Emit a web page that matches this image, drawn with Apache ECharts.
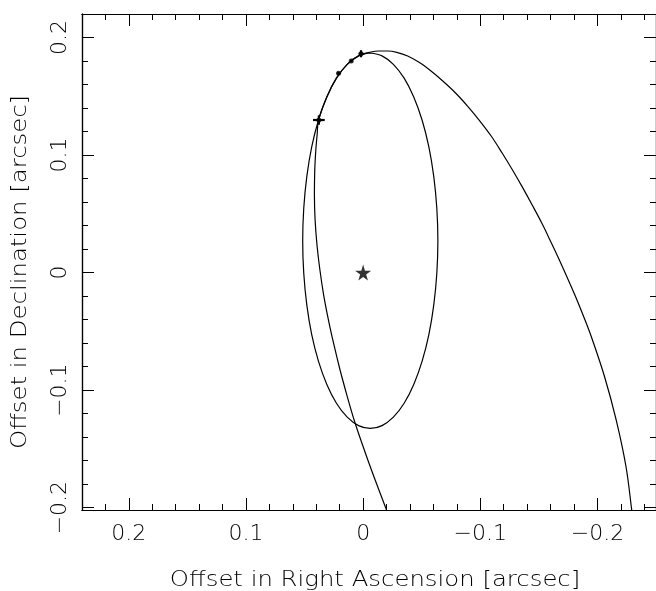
<!DOCTYPE html>
<html>
<head>
<meta charset="utf-8">
<script src="https://cdn.jsdelivr.net/npm/echarts@6/dist/echarts.min.js"></script>
<style>html,body{margin:0;padding:0;background:#fff;}#c{width:656px;height:591px;}</style>
</head>
<body>
<div id="c"></div>
<script>
// ---- data ----
const xMajorTicks = [-0.2, -0.1, 0, 0.1, 0.2];
const xMinorTicks = [-0.24, -0.22, -0.2, -0.18, -0.16, -0.14, -0.12, -0.1, -0.08, -0.06, -0.04, -0.02, 0, 0.02, 0.04, 0.06, 0.08, 0.1, 0.12, 0.14, 0.16, 0.18, 0.2, 0.22, 0.24];
const yMajorTicks = [-0.2, -0.1, 0, 0.1, 0.2];
const yMinorTicks = [-0.2, -0.18, -0.16, -0.14, -0.12, -0.1, -0.08, -0.06, -0.04, -0.02, 0, 0.02, 0.04, 0.06, 0.08, 0.1, 0.12, 0.14, 0.16, 0.18, 0.2, 0.22];
const xTitle = 'Offset in Right Ascension [arcsec]';
const yTitle = 'Offset in Declination [arcsec]';

// closed orbit (clockwise from the top)
const innerX = [-0.0061, -0.0161, -0.0258, -0.0350, -0.0432, -0.0503, -0.0561, -0.0603, -0.0629, -0.0638, -0.0629, -0.0603, -0.0561, -0.0503, -0.0432, -0.0350, -0.0258, -0.0161, -0.0061, 0.0039, 0.0136, 0.0228, 0.0310, 0.0381, 0.0439, 0.0481, 0.0507, 0.0516, 0.0507, 0.0481, 0.0439, 0.0381, 0.0310, 0.0228, 0.0136, 0.0039, -0.0061];
const innerY = [0.1868, 0.1844, 0.1772, 0.1654, 0.1494, 0.1298, 0.1070, 0.0817, 0.0548, 0.0271, -0.0006, -0.0275, -0.0528, -0.0756, -0.0952, -0.1112, -0.1230, -0.1302, -0.1326, -0.1302, -0.1230, -0.1112, -0.0952, -0.0756, -0.0528, -0.0275, -0.0006, 0.0271, 0.0548, 0.0817, 0.1070, 0.1298, 0.1494, 0.1654, 0.1772, 0.1844, 0.1868];

// wide orbit (from bottom-left, up over the top, down to bottom-right)
const bigX = [-0.0232, -0.0151, -0.0071, 0.0005, 0.0077, 0.0139, 0.0197, 0.0249, 0.0296, 0.0337, 0.0369, 0.0394, 0.0410, 0.0416, 0.0413, 0.0404, 0.0393, 0.0381, 0.0310, 0.0228, 0.0136, 0.0039, -0.0067, -0.0134, -0.0211, -0.0287, -0.0380, -0.0481, -0.0574, -0.0675, -0.0793, -0.0891, -0.0990, -0.1093, -0.1188, -0.1275, -0.1357, -0.1443, -0.1526, -0.1603, -0.1675, -0.1801, -0.1877, -0.1948, -0.2061, -0.2160, -0.2244, -0.2291, -0.2312];
const bigY = [-0.2105, -0.1892, -0.1680, -0.1467, -0.1254, -0.1042, -0.0829, -0.0616, -0.0404, -0.0191, 0.0022, 0.0235, 0.0447, 0.0660, 0.0873, 0.1043, 0.1171, 0.1298, 0.1494, 0.1654, 0.1772, 0.1844, 0.1877, 0.1885, 0.1885, 0.1874, 0.1843, 0.1787, 0.1719, 0.1634, 0.1524, 0.1417, 0.1298, 0.1162, 0.1015, 0.0873, 0.0731, 0.0575, 0.0419, 0.0260, 0.0107, -0.0176, -0.0361, -0.0546, -0.0886, -0.1254, -0.1652, -0.2006, -0.2190];

// observations with errors
const obsX = [0.0018, 0.0102, 0.0210, 0.0378];
const obsY = [0.1862, 0.1800, 0.1695, 0.1298];
const errX = [0.002, 0.001, 0.001, 0.005];
const errY = [0.003, 0.001, 0.001, 0.004];

// primary star
const starX = [0];
const starY = [0];

// ---- chart ----
const FONT = 'DejaVu Sans';
const fmt = v => (v < 0 ? '\u2212' + Math.abs(v) : String(v));
const zip = (a, b) => a.map((v, i) => [v, b[i]]);

const chart = echarts.init(document.getElementById('c'), null, {renderer: 'canvas'});

const axLine = {show: true, onZero: false, lineStyle: {color: '#000', width: 1.2}};
function xAx(pos, ticks, len, labels) {
  return {
    type: 'value', position: pos, min: -0.25, max: 0.24, inverse: true,
    axisLine: axLine, splitLine: {show: false},
    axisTick: {show: true, inside: true, length: len, customValues: ticks, lineStyle: {color: '#000', width: 1}},
    axisLabel: labels ? {show: true, customValues: ticks, formatter: fmt, color: '#000', fontFamily: FONT, fontSize: 22, fontWeight: 200, margin: 13} : {show: false}
  };
}
function yAx(pos, ticks, len, labels) {
  return {
    type: 'value', position: pos, min: -0.202, max: 0.22,
    axisLine: axLine, splitLine: {show: false},
    axisTick: {show: true, inside: true, length: len, customValues: ticks, lineStyle: {color: '#000', width: 1}},
    axisLabel: labels ? {show: true, customValues: ticks, formatter: fmt, rotate: 90, color: '#000', fontFamily: FONT, fontSize: 22, fontWeight: 200, margin: 11} : {show: false}
  };
}

const xAxes = [xAx('bottom', xMajorTicks, 12, true), xAx('bottom', xMinorTicks, 6, false), xAx('top', xMajorTicks, 12, false), xAx('top', xMinorTicks, 6, false)];
const yAxes = [yAx('left', yMajorTicks, 12, true), yAx('left', yMinorTicks, 6, false), yAx('right', yMajorTicks, 12, false), yAx('right', yMinorTicks, 6, false)];

const STAR = 'path://M50,0 L61,35 L98,35 L68,57 L79,91 L50,70 L21,91 L32,57 L2,35 L39,35 Z';
const titleStyle = {fill: '#000', fontFamily: FONT, fontSize: 21, fontWeight: 200, align: 'center', verticalAlign: 'middle'};

chart.setOption({
  animation: false,
  backgroundColor: '#fff',
  grid: {left: 82, top: 14, right: -6, bottom: 81, containLabel: false},
  xAxis: xAxes,
  yAxis: yAxes,
  graphic: [
    {type: 'text', x: 375, y: 581, scaleX: 1.16, style: Object.assign({text: xTitle}, titleStyle)},
    {type: 'text', x: 21, y: 272, rotation: Math.PI / 2, scaleX: 1.16, style: Object.assign({text: yTitle}, titleStyle)}
  ],
  series: [
    {type: 'line', data: zip(innerX, innerY), smooth: 0.35, showSymbol: false, lineStyle: {color: '#000', width: 1.2}, clip: true},
    {type: 'line', data: zip(bigX, bigY), smooth: 0.35, showSymbol: false, lineStyle: {color: '#000', width: 1.2}, clip: true},
    {type: 'custom', data: obsX.map((v, i) => [v, obsY[i], errX[i], errY[i]]),
      renderItem(params, api) {
        const x = api.value(0), y = api.value(1), ex = api.value(2), ey = api.value(3);
        const l = api.coord([x + ex, y]), r = api.coord([x - ex, y]);
        const t = api.coord([x, y + ey]), b = api.coord([x, y - ey]);
        return {type: 'group', children: [
          {type: 'line', shape: {x1: l[0], y1: l[1], x2: r[0], y2: r[1]}, style: {stroke: '#000', lineWidth: 2.2}},
          {type: 'line', shape: {x1: t[0], y1: t[1], x2: b[0], y2: b[1]}, style: {stroke: '#000', lineWidth: 2.2}}
        ]};
      }
    },
    {type: 'scatter', data: zip(obsX, obsY), symbol: 'circle', symbolSize: 5, itemStyle: {color: '#000'}},
    {type: 'scatter', data: zip(starX, starY), symbol: STAR, symbolSize: 16, itemStyle: {color: '#000'}}
  ]
});
</script>
</body>
</html>
